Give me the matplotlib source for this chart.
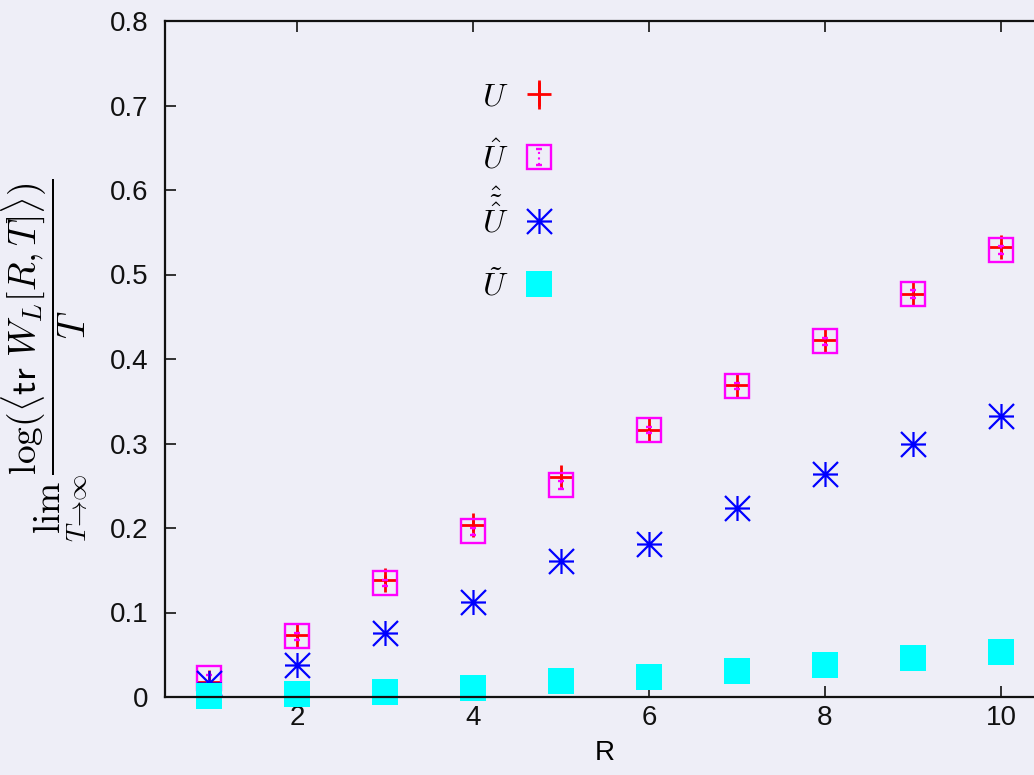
import matplotlib

matplotlib.use("Agg")

import matplotlib.pyplot as plt
import numpy as np
from matplotlib.legend_handler import HandlerErrorbar, HandlerLine2D
from matplotlib.lines import Line2D
from matplotlib.path import Path
from matplotlib.ticker import FormatStrFormatter
from matplotlib.transforms import Affine2D

R = np.arange(1, 11)
u_plain = [0.018, 0.073, 0.138, 0.203, 0.260, 0.316, 0.369, 0.422, 0.477, 0.532]
u_plain_err = [0.006, 0.006, 0.006, 0.006, 0.006, 0.006, 0.005, 0.005, 0.006, 0.007]
u_hat = [0.022, 0.072, 0.135, 0.196, 0.251, 0.316, 0.368, 0.421, 0.477, 0.529]
u_hat_err = [0.004, 0.004, 0.004, 0.004, 0.005, 0.004, 0.004, 0.004, 0.005, 0.005]
u_hth = [0.017, 0.038, 0.076, 0.112, 0.161, 0.181, 0.224, 0.264, 0.299, 0.333]
u_tilde = [0.001, 0.003, 0.006, 0.011, 0.019, 0.024, 0.031, 0.038, 0.046, 0.053]

BG = "#eeeef7"

plt.rcParams["mathtext.fontset"] = "cm"
plt.rcParams["font.family"] = ["Liberation Sans", "DejaVu Sans"]

# gnuplot style asterisk: horizontal, vertical and both diagonals
star = Path(
    [(-1, 0), (1, 0), (0, -1), (0, 1), (-1, -1), (1, 1), (-1, 1), (1, -1)],
    [Path.MOVETO, Path.LINETO] * 4,
)


def shifted(handler_cls, dy, **kw):
    # legend handler whose symbol is moved down to sit level with the text
    class Shifted(handler_cls):
        def create_artists(self, *args):
            arts = super().create_artists(*args)
            for a in arts:
                a.set_transform(Affine2D().translate(0, dy) + args[-1])
            return arts

    return Shifted(**kw)


fig = plt.figure(figsize=(10.34, 7.75), dpi=100, facecolor=BG)
ax = fig.add_axes([165 / 1034, 78 / 775, 880 / 1034, 676 / 775], facecolor=BG)

h1 = ax.errorbar(R, u_plain, yerr=u_plain_err, fmt="+", color="#ff0000", ms=17,
                 mew=2, elinewidth=2, capsize=0, label=r"$U$", zorder=3)
h2 = ax.errorbar(R, u_hat, yerr=u_hat_err, fmt="s", color="#ff00ff", ms=17.5,
                 mfc="none", mew=1.7, elinewidth=1.5, capsize=2,
                 label=r"$\hat{U}$", zorder=4)
for line in h2[2]:
    line.set_linestyle(":")
(h3,) = ax.plot(R, u_hth, linestyle="none", marker=star, color="#0000ff", ms=18,
                mew=1.6, label=r"$\hat{\tilde{\hat{U}}}$", zorder=5)
(h4,) = ax.plot(R, u_tilde, linestyle="none", marker="s", color="#00ffff", ms=19,
                mew=0, label=r"$\tilde{U}$", zorder=6, clip_on=False)

ax.set_xlim(0.5, 10.5)
ax.set_ylim(0, 0.8)
ax.set_xticks([2, 4, 6, 8, 10])
ax.set_yticks(np.arange(0, 0.81, 0.1))
ax.yaxis.set_major_formatter(FormatStrFormatter("%g"))
ax.tick_params(direction="in", length=8, width=1.2, labelsize=20,
               top=True, right=True, colors="#111111")
ax.tick_params(axis="x", pad=6)
ax.tick_params(axis="y", pad=12)
for s in ax.spines.values():
    s.set_linewidth(1.6)
    s.set_color("#111111")
    s.set_zorder(7)

ax.set_xlabel("R", fontsize=20, labelpad=6)
fig.text(45 / 1034, 1 - 360 / 775,
         r"$\lim_{T\to\infty}\dfrac{\log(\langle\mathsf{tr}\ W_L[R,T]\rangle)}{T}$",
         rotation=90, ha="center", va="center", fontsize=27)

ax.legend(handles=[h1, h2, h3, h4], loc="upper left",
          bbox_to_anchor=(0.328, 0.98), frameon=False,
          markerfirst=False, fontsize=23, handlelength=1.0,
          handleheight=2.8, handletextpad=0.45, labelspacing=-0.1, numpoints=1,
          handler_map={
              h1: shifted(HandlerErrorbar, -7, yerr_size=0.45),
              h2: shifted(HandlerErrorbar, -7, yerr_size=0.25),
              Line2D: shifted(HandlerLine2D, -7),
          })

fig.savefig("out.png", dpi=100, facecolor=BG)
